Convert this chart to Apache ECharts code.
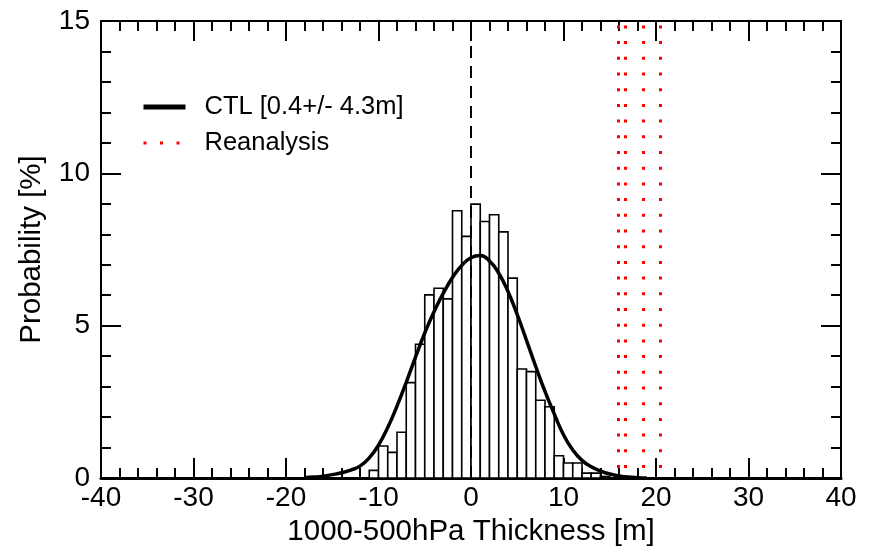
<!DOCTYPE html>
<html>
<head>
<meta charset="utf-8">
<script src="https://cdn.jsdelivr.net/npm/echarts@6/dist/echarts.min.js"></script>
<style>
html,body{margin:0;padding:0;background:#fff;}
#chart{width:871px;height:552px;}
</style>
</head>
<body>
<div id="chart"></div>
<script>
// ---- data ----
const binWidth = 1;
const binStarts = [-11,-10,-9,-8,-7,-6,-5,-4,-3,-2,-1,0,1,2,3,4,5,6,7,8,9,10,11,12,13,14];
const binHeights = [0.25,1.05,0.84,1.50,3.13,4.39,6.01,6.23,5.88,8.77,7.93,8.99,8.42,8.64,8.08,6.56,3.58,3.49,2.55,2.34,0.73,0.49,0.49,0.16,0.16,0.05];
const curveX = [-18,-17,-16,-15,-14,-13,-12,-11,-10,-9,-8,-7,-6,-5,-4,-3,-2,-1,0,1,2,3,4,5,6,7,8,9,10,11,12,13,14,15,16,17,18,19];
const curveY = [0.01,0.03,0.06,0.11,0.17,0.26,0.39,0.66,1.08,1.66,2.36,3.14,3.97,4.76,5.46,6.06,6.58,6.98,7.23,7.3,7.12,6.72,6.12,5.36,4.52,3.66,2.84,2.1,1.42,0.92,0.58,0.37,0.23,0.13,0.07,0.03,0.01,0];
const reanalysisX = [15.9, 16.7, 18.6, 20.5];
const zeroLineX = [0];
const ctlName = 'CTL [0.4+/- 4.3m]';
const reaName = 'Reanalysis';
const xTicks = {min: -40, max: 40, interval: 10};
const yTicks = {min: 0, max: 15, interval: 5};
const xName = '1000-500hPa Thickness [m]';
const yName = 'Probability [%]';

// ---- chart ----
const FONT = "'Liberation Sans', Arial, sans-serif";
const histData = binStarts.map((s, i) => [s, binHeights[i]]);
const curveData = curveX.map((x, i) => [x, curveY[i]]);

function axisCommon(showLabel) {
  return {
    axisLine: {show: true, onZero: false, lineStyle: {color: '#000', width: 2}},
    axisTick: {show: true, inside: true, length: 20, lineStyle: {color: '#000', width: 2}},
    minorTick: {show: true, splitNumber: 5, length: 10, lineStyle: {color: '#000', width: 2}},
    splitLine: {show: false},
    minorSplitLine: {show: false},
    axisLabel: {show: showLabel, color: '#000', fontSize: 28, fontFamily: FONT}
  };
}

const chart = echarts.init(document.getElementById('chart'), null, {renderer: 'canvas'});
chart.setOption({
  animation: false,
  backgroundColor: '#fff',
  grid: {left: 101, right: 30, top: 21, bottom: 72, containLabel: false},
  xAxis: [
    Object.assign({type: 'value', position: 'bottom', min: xTicks.min, max: xTicks.max, interval: xTicks.interval,
      name: xName, nameLocation: 'middle', nameGap: 39,
      nameTextStyle: {color: '#000', fontSize: 29.5, fontFamily: FONT}}, axisCommon(true),
      {axisLine: {show: true, onZero: false, lineStyle: {color: '#000', width: 3}},
       axisLabel: {show: true, color: '#000', fontSize: 28, fontFamily: FONT, margin: 6}}),
    Object.assign({type: 'value', position: 'top', min: xTicks.min, max: xTicks.max, interval: xTicks.interval}, axisCommon(false))
  ],
  yAxis: [
    Object.assign({type: 'value', position: 'left', min: yTicks.min, max: yTicks.max, interval: yTicks.interval,
      name: yName, nameLocation: 'middle', nameGap: 54,
      nameTextStyle: {color: '#000', fontSize: 29.5, fontFamily: FONT}}, axisCommon(true),
      {axisLabel: {show: true, color: '#000', fontSize: 28, fontFamily: FONT, margin: 11}}),
    Object.assign({type: 'value', position: 'right', min: yTicks.min, max: yTicks.max, interval: yTicks.interval}, axisCommon(false))
  ],
  legend: {
    orient: 'vertical',
    left: 141,
    top: 94,
    padding: 0,
    itemWidth: 42,
    itemHeight: 14,
    itemGap: 10,
    selectedMode: false,
    textStyle: {color: '#000', fontSize: 25.5, fontFamily: FONT, padding: [0, 0, 0, 14]},
    data: [
      {name: ctlName, itemStyle: {opacity: 0}, lineStyle: {color: '#000', width: 5, type: 'solid'}},
      {name: reaName, itemStyle: {opacity: 0}, lineStyle: {color: '#ff0000', width: 3, type: [3, 13.5]}}
    ]
  },
  series: [
    {
      name: 'zero',
      type: 'line',
      data: [],
      z: 1,
      markLine: {
        silent: true, symbol: ['none', 'none'], label: {show: false},
        lineStyle: {color: '#000', width: 2, type: [12, 8]},
        emphasis: {disabled: true},
        data: zeroLineX.map(v => ({xAxis: v}))
      }
    },
    {
      name: 'hist',
      type: 'custom',
      z: 2,
      silent: true,
      data: histData,
      renderItem: function (params, api) {
        const x0 = api.value(0), h = api.value(1);
        const p0 = api.coord([x0, 0]);
        const p1 = api.coord([x0 + binWidth, h]);
        return {
          type: 'rect',
          shape: {x: p0[0], y: p1[1], width: p1[0] - p0[0], height: p0[1] - p1[1]},
          style: {fill: '#fff', stroke: '#000', lineWidth: 1.6}
        };
      }
    },
    {
      name: ctlName,
      type: 'line',
      z: 3,
      smooth: 0.5,
      symbol: 'none',
      data: curveData,
      lineStyle: {color: '#000', width: 3.5},
      itemStyle: {color: '#000'}
    },
    {
      name: reaName,
      type: 'line',
      z: 4,
      data: [],
      symbol: 'none',
      lineStyle: {color: '#ff0000', width: 3, type: [3, 12.7]},
      itemStyle: {color: '#ff0000'},
      markLine: {
        silent: true, symbol: ['none', 'none'], label: {show: false},
        lineStyle: {color: '#ff0000', width: 3, type: [3, 12.7], dashOffset: -10},
        emphasis: {disabled: true},
        data: reanalysisX.map(v => ({xAxis: v}))
      }
    }
  ]
});
</script>
</body>
</html>
